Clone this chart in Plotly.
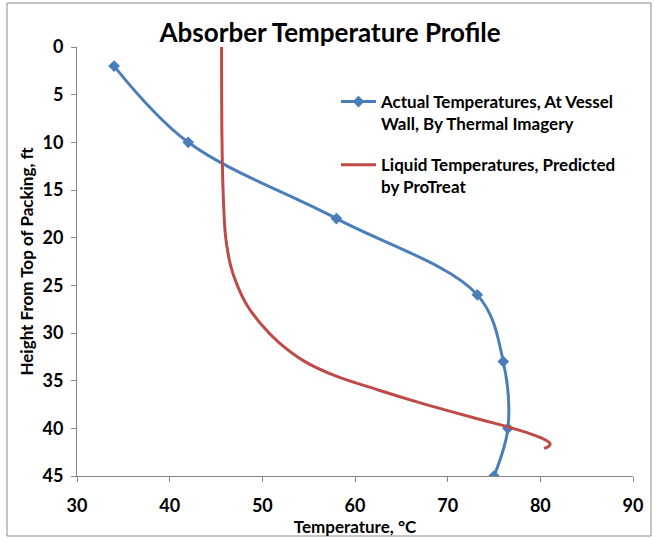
import plotly.graph_objects as go

# Actual temperatures at vessel wall (thermal imagery)
actual_temp = [34.0, 42.0, 58.0, 73.2, 76.0, 76.5, 75.0]
actual_height = [2, 10, 18, 26, 33, 40, 45]

# Liquid temperatures predicted by ProTreat
pred_temp = [45.6, 45.65, 45.8, 46.05, 46.6, 47.3, 48.3, 49.8, 51.8, 54.6, 57.9,
             62.6, 66.6, 70.2, 73.6, 76.7, 79.0, 80.5, 81.05, 80.9, 80.4]
pred_height = [0, 10, 16, 20, 23, 25, 27, 29, 31, 33, 34.5,
               36, 37.2, 38.2, 39.1, 39.9, 40.6, 41.2, 41.6, 41.9, 42.1]

x_ticks = [30, 40, 50, 60, 70, 80, 90]
y_ticks = [0, 5, 10, 15, 20, 25, 30, 35, 40, 45]

FONT = "Lato"
W, H = 655, 539
L, R, T, B = 77, 22, 47, 63

fig = go.Figure()
fig.add_trace(go.Scatter(
    x=actual_temp, y=actual_height, mode="lines+markers",
    name="Actual Temperatures, At Vessel<br>Wall, By Thermal Imagery",
    line=dict(color="#4A7EBB", width=3, shape="spline", smoothing=1),
    marker=dict(symbol="diamond", size=9, color="#4A7EBB"),
    legendgroup="a",
))
fig.add_trace(go.Scatter(
    x=pred_temp, y=pred_height, mode="lines",
    name="Liquid Temperatures, Predicted<br>by ProTreat",
    line=dict(color="#BE4B48", width=3, shape="spline", smoothing=1),
    legendgroup="b",
))

pw = W - L - R
ph = H - T - B
bx0 = (7 - L) / pw
bx1 = (651 - L) / pw
by1 = (H - B - 3) / ph
by0 = (H - B - 536) / ph
fig.add_shape(type="rect", xref="paper", yref="paper", x0=bx0, x1=bx1, y0=by0, y1=by1,
              line=dict(color="#8C8C8C", width=1), fillcolor="rgba(0,0,0,0)", layer="below")

axis_common = dict(
    showgrid=False, zeroline=False, showline=True, linecolor="#868686", linewidth=1,
    ticks="outside", ticklen=5, tickcolor="#868686", tickwidth=1, automargin=False,
    tickfont=dict(family=FONT, size=18, color="black", weight="bold"),
)

fig.update_layout(
    width=W, height=H,
    margin=dict(l=L, r=R, t=T, b=B),
    paper_bgcolor="white", plot_bgcolor="white",
    title=dict(text="<b>Absorber Temperature Profile</b>", xref="container", yref="container",
               x=0.504, y=1 - 33 / H, xanchor="center", yanchor="middle",
               font=dict(family=FONT, size=26, color="black")),
    xaxis=dict(range=[30, 90], tickvals=x_ticks, ticklabelstandoff=8,
               title=dict(text="<b>Temperature, °C</b>", standoff=1,
                          font=dict(family=FONT, size=17, color="black")),
               **axis_common),
    yaxis=dict(range=[45, 0], tickvals=y_ticks, ticklabelstandoff=4,
               title=dict(text="<b>Height From Top of Packing, ft</b>", standoff=4,
                          font=dict(family=FONT, size=17, color="black")),
               **axis_common),
    legend=dict(x=(336 - L) / pw, y=(H - B - 84) / ph, xanchor="left", yanchor="top",
                bgcolor="rgba(0,0,0,0)", valign="top", traceorder="grouped",
                tracegroupgap=16, itemwidth=35,
                font=dict(family=FONT, size=17, color="black", weight="bold")),
    showlegend=True,
)

fig.write_html("out.html", config={"displayModeBar": False},
               post_script="document.body.style.margin='0';document.body.style.overflow='hidden';")
